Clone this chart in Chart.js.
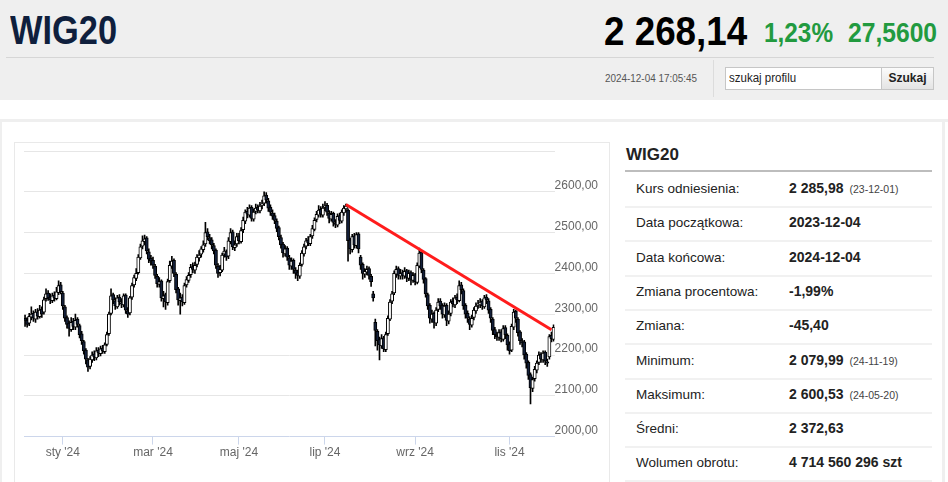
<!DOCTYPE html>
<html lang="pl">
<head>
<meta charset="utf-8">
<title>WIG20</title>
<script src="https://cdn.jsdelivr.net/npm/chart.js@4.4.1/dist/chart.umd.min.js"></script>
<style>
  body { margin: 0; width: 948px; height: 482px; overflow: hidden; background: #fff;
         font-family: "Liberation Sans", Arial, sans-serif; color: #222; position: relative; }
  .abs { position: absolute; white-space: nowrap; }
  .sq { transform-origin: left center; display: inline-block; }
  #head { left: 0; top: 0; width: 948px; height: 100px; background: #efefef; }
  .row { position: absolute; left: 625px; width: 307px; height: 34px; border-bottom: 2px solid #f1f1f1; }
  .row .lab { position: absolute; left: 11px; top: 9px; font-size: 13.5px; color: #222; }
  .row .val { position: absolute; left: 164px; top: 8px; font-size: 14px; font-weight: bold; color: #222; }
  .row .val small { font-weight: normal; font-size: 10.5px; color: #444; margin-left: 6px; }
</style>
</head>
<body>
<div id="head" class="abs"></div>
<div class="abs" style="left:10px;top:10px;font-size:40px;line-height:40px;font-weight:bold;color:#0f1f3d;">
  <span class="sq" style="transform:scaleX(0.86)">WIG20</span></div>
<div class="abs" style="left:604px;top:11px;font-size:40px;line-height:40px;font-weight:bold;color:#000;">
  <span class="sq" style="transform:scaleX(0.92)">2 268,14</span></div>
<div class="abs" style="left:764px;top:19px;font-size:28px;line-height:28px;font-weight:bold;color:#229a3f;">
  <span class="sq" style="transform:scaleX(0.87)">1,23%</span></div>
<div class="abs" style="left:848px;top:19px;font-size:28px;line-height:28px;font-weight:bold;color:#229a3f;">
  <span class="sq" style="transform:scaleX(0.88)">27,5600</span></div>
<div class="abs" style="left:6px;top:57px;width:928px;height:1px;background:#d6d6d6;"></div>
<div class="abs" style="left:605px;top:72px;font-size:11px;line-height:12px;color:#555;">
  <span class="sq" style="transform:scaleX(0.9)">2024-12-04 17:05:45</span></div>
<div class="abs" style="left:713px;top:60px;width:1px;height:37px;background:#dcdcdc;"></div>
<div class="abs" style="left:725px;top:67px;width:152px;height:21px;border:1px solid #c6c6c6;background:#fff;font-size:12.5px;line-height:21px;padding-left:3px;box-sizing:content-box;">
  <span class="sq" style="transform:scaleX(0.92)">szukaj profilu</span></div>
<div class="abs" style="left:881px;top:67px;width:51px;height:21px;border:1px solid #c6c6c6;background:linear-gradient(#fbfbfb,#e4e4e4);font-size:12px;font-weight:bold;line-height:21px;text-align:center;">Szukaj</div>

<div class="abs" style="left:0;top:119px;width:948px;height:3px;background:#efefef;"></div>
<div class="abs" style="left:0;top:119px;width:2px;height:363px;background:#efefef;"></div>
<div class="abs" style="left:942px;top:119px;width:3px;height:363px;background:#efefef;"></div>
<div class="abs" style="left:14px;top:142px;width:594px;height:350px;border:1px solid #e9e9e9;"></div>

<div class="abs" style="left:15px;top:143px;width:593px;height:333px;">
  <canvas id="wigChart"></canvas>
</div>

<div class="abs" style="left:626px;top:145px;font-size:17px;font-weight:bold;color:#222;">WIG20</div>
<div class="abs" style="left:625px;top:170px;width:307px;height:2px;background:#bdbdbd;"></div>
<div id="stats"></div>

<script>
// candles: one per trading day, 2023-12-04 .. 2024-12-04
const openVals = [
  2290,2285,2278,2293,2302,2288,2306,2294,2312,2305,
  2338,2352,2342,2333,2347,2338,2353,2372,2352,2318,
  2292,2278,2262,2283,2268,2288,2272,2252,2233,2212,
  2188,2172,2188,2203,2193,2212,2203,2217,2208,2226,
  2252,2302,2348,2333,2318,2342,2328,2323,2347,2308,
  2303,2342,2372,2388,2402,2438,2467,2478,2487,2453,
  2437,2432,2418,2393,2373,2382,2338,2348,2328,2382,
  2418,2432,2398,2362,2333,2342,2328,2372,2383,2397,
  2417,2408,2422,2438,2447,2458,2472,2502,2488,2482,
  2468,2457,2418,2402,2408,2447,2453,2442,2478,2502,
  2463,2472,2492,2478,2507,2528,2552,2543,2562,2533,
  2552,2562,2553,2567,2572,2592,2578,2562,2548,2542,
  2528,2512,2488,2472,2448,2462,2438,2418,2432,2408,
  2402,2393,2422,2448,2467,2482,2473,2492,2508,2532,
  2543,2557,2543,2562,2567,2548,2533,2547,2523,2518,
  2542,2528,2548,2558,2555,2482,2458,2492,2468,2497,
  2440,2422,2398,2403,2412,2393,2350,2280,2258,2238,
  2222,2242,2213,2252,2288,2332,2352,2398,2412,2393,
  2402,2393,2407,2388,2402,2383,2397,2378,2418,2452,
  2408,2387,2348,2322,2288,2302,2278,2312,2332,2322,
  2298,2322,2283,2302,2332,2323,2342,2333,2372,2358,
  2322,2302,2288,2273,2292,2308,2322,2323,2332,2318,
  2342,2333,2312,2288,2262,2248,2243,2257,2238,2267,
  2248,2227,2212,2268,2307,2288,2257,2233,2232,2202,
  2182,2152,2118,2142,2163,2182,2202,2188,2207,2183,
  2195,2248,2238
];
const highVals = [
  2298,2292,2302,2318,2308,2312,2314,2322,2318,2342,
  2362,2358,2350,2352,2355,2366,2382,2378,2356,2322,
  2296,2284,2292,2290,2300,2292,2276,2258,2236,2216,
  2192,2196,2208,2210,2218,2218,2222,2224,2230,2256,
  2305,2362,2352,2340,2346,2348,2338,2350,2350,2316,
  2344,2376,2396,2412,2446,2472,2492,2494,2490,2460,
  2444,2440,2422,2398,2390,2384,2356,2352,2386,2430,
  2442,2436,2402,2366,2352,2348,2376,2392,2402,2422,
  2426,2428,2446,2456,2466,2480,2525,2510,2496,2488,
  2474,2460,2424,2420,2450,2464,2458,2488,2510,2506,
  2480,2498,2498,2512,2538,2556,2562,2568,2566,2558,
  2570,2568,2574,2580,2600,2598,2584,2568,2556,2548,
  2534,2516,2494,2476,2468,2466,2444,2438,2436,2414,
  2408,2426,2456,2472,2486,2490,2496,2518,2536,2552,
  2566,2564,2570,2576,2572,2554,2552,2550,2532,2546,
  2548,2556,2566,2570,2558,2486,2496,2498,2500,2500,
  2444,2426,2412,2418,2416,2398,2356,2288,2262,2244,
  2250,2246,2256,2296,2336,2356,2406,2418,2416,2410,
  2408,2414,2410,2408,2406,2402,2400,2426,2462,2454,
  2412,2390,2352,2326,2310,2306,2316,2338,2338,2326,
  2328,2326,2308,2336,2340,2346,2350,2382,2378,2362,
  2326,2308,2294,2298,2316,2328,2334,2338,2336,2346,
  2348,2338,2316,2292,2268,2256,2262,2262,2272,2272,
  2252,2232,2276,2312,2310,2292,2260,2240,2236,2206,
  2186,2156,2146,2172,2186,2208,2206,2210,2210,2190,
  2250,2256,2274
];
const lowVals = [
  2270,2268,2272,2286,2282,2280,2288,2290,2292,2300,
  2332,2334,2326,2328,2332,2335,2348,2350,2312,2282,
  2266,2246,2258,2262,2262,2268,2242,2226,2202,2178,
  2160,2166,2182,2186,2188,2196,2198,2204,2204,2222,
  2248,2298,2326,2312,2314,2322,2316,2318,2302,2292,
  2298,2336,2366,2382,2398,2434,2460,2470,2448,2426,
  2420,2412,2388,2366,2366,2332,2318,2312,2322,2378,
  2412,2392,2352,2322,2300,2320,2324,2366,2378,2390,
  2402,2400,2416,2430,2440,2452,2466,2482,2472,2460,
  2448,2412,2390,2394,2404,2440,2432,2436,2472,2458,
  2456,2466,2472,2474,2500,2522,2536,2538,2528,2528,
  2546,2548,2548,2558,2566,2572,2552,2542,2532,2522,
  2502,2482,2462,2440,2442,2432,2410,2410,2400,2388,
  2382,2388,2418,2442,2460,2468,2468,2486,2504,2526,
  2538,2538,2538,2554,2542,2524,2528,2516,2512,2514,
  2522,2524,2542,2550,2430,2448,2452,2462,2462,2450,
  2410,2386,2390,2396,2386,2368,2332,2222,2212,2188,
  2216,2208,2208,2248,2284,2326,2348,2390,2386,2386,
  2386,2388,2380,2382,2372,2378,2372,2374,2414,2402,
  2376,2342,2312,2278,2280,2266,2272,2306,2312,2290,
  2292,2272,2276,2296,2318,2316,2326,2330,2350,2312,
  2290,2280,2262,2268,2286,2302,2314,2316,2312,2314,
  2326,2302,2280,2250,2240,2236,2236,2232,2234,2240,
  2212,2202,2208,2262,2280,2246,2226,2220,2190,2168,
  2140,2080,2110,2136,2156,2176,2182,2182,2176,2172,
  2190,2232,2234
];
const closeVals = [
  2285,2275,2295,2300,2290,2305,2295,2310,2300,2335,
  2350,2340,2335,2345,2340,2355,2370,2355,2320,2290,
  2275,2265,2280,2270,2285,2275,2250,2235,2210,2190,
  2170,2190,2200,2195,2210,2205,2215,2210,2225,2250,
  2300,2345,2335,2320,2340,2330,2325,2345,2310,2300,
  2340,2370,2390,2400,2440,2465,2480,2485,2455,2435,
  2430,2420,2395,2375,2380,2340,2345,2330,2380,2420,
  2430,2400,2360,2335,2340,2330,2370,2385,2395,2415,
  2410,2420,2440,2445,2460,2470,2500,2490,2480,2470,
  2455,2420,2400,2410,2445,2455,2440,2480,2500,2465,
  2470,2490,2480,2505,2530,2550,2545,2560,2535,2550,
  2560,2555,2565,2570,2590,2580,2560,2550,2540,2530,
  2510,2490,2470,2450,2460,2440,2420,2430,2410,2400,
  2395,2420,2450,2465,2480,2475,2490,2510,2530,2545,
  2555,2545,2560,2565,2550,2535,2545,2525,2520,2540,
  2530,2550,2560,2565,2480,2460,2490,2470,2495,2460,
  2420,2400,2405,2410,2395,2380,2340,2260,2235,2225,
  2240,2215,2250,2290,2330,2350,2400,2410,2395,2400,
  2395,2405,2390,2400,2385,2395,2380,2420,2450,2410,
  2385,2350,2320,2290,2300,2280,2310,2330,2320,2300,
  2320,2285,2300,2330,2325,2340,2335,2370,2360,2320,
  2300,2290,2275,2290,2310,2320,2325,2330,2320,2340,
  2335,2310,2290,2260,2250,2245,2255,2240,2265,2250,
  2225,2210,2270,2305,2290,2255,2235,2230,2200,2180,
  2150,2120,2140,2165,2180,2200,2190,2205,2185,2180,
  2245,2240,2268
];

// month ticks on the time axis (index of the first session shown)
const tickIndex = [18, 61, 102, 143, 186, 231];
const tickText = ["sty '24", "mar '24", "maj '24", "lip '24", "wrz '24", "lis '24"];

// red resistance line: candle index -> level
const trendIdx = [153, 251];
const trendVal = [2569, 2262];

// side table
const statRows = [
  ['Kurs odniesienia:', '2 285,98', '(23-12-01)'],
  ['Data początkowa:', '2023-12-04', ''],
  ['Data końcowa:', '2024-12-04', ''],
  ['Zmiana procentowa:', '-1,99%', ''],
  ['Zmiana:', '-45,40', ''],
  ['Minimum:', '2 079,99', '(24-11-19)'],
  ['Maksimum:', '2 600,53', '(24-05-20)'],
  ['Średni:', '2 372,63', ''],
  ['Wolumen obrotu:', '4 714 560 296 szt', '']
];

const stats = document.getElementById('stats');
statRows.forEach((r, i) => {
  const d = document.createElement('div');
  d.className = 'row';
  d.style.top = (172 + i * 34.3) + 'px';
  d.innerHTML = '<span class="lab">' + r[0] + '</span><span class="val">' + r[1] +
    (r[2] ? '<small>' + r[2] + '</small>' : '') + '</span>';
  stats.appendChild(d);
});

const labels = closeVals.map((_, i) => i);
const bodies = closeVals.map((c, i) => [openVals[i], c]);
const wicks = closeVals.map((c, i) => [lowVals[i], highVals[i]]);
const trend = closeVals.map(() => null);
trendIdx.forEach((k, j) => { trend[k] = trendVal[j]; });

Chart.defaults.font.family = '"Liberation Sans", Arial, sans-serif';

const ctx = document.getElementById('wigChart').getContext('2d');
new Chart(ctx, {
  type: 'bar',
  data: {
    labels: labels,
    datasets: [
      {
        type: 'line',
        data: trend,
        borderColor: '#ff1c1c',
        borderWidth: 3,
        pointRadius: 0,
        spanGaps: true,
        order: 0
      },
      {
        data: bodies,
        backgroundColor: c => closeVals[c.dataIndex] >= openVals[c.dataIndex] ? '#ffffff' : '#14203a',
        borderColor: '#000',
        borderWidth: 1,
        borderSkipped: false,
        barThickness: 3.2,
        grouped: false,
        order: 1
      },
      {
        data: wicks,
        backgroundColor: '#000',
        barThickness: 1,
        grouped: false,
        order: 2
      }
    ]
  },
  options: {
    responsive: true,
    maintainAspectRatio: false,
    animation: false,
    layout: { padding: { left: 9, top: 8, right: 10, bottom: 15 } },
    plugins: { legend: { display: false }, tooltip: { enabled: false } },
    scales: {
      x: {
        offset: true,
        grid: {
          offset: false,
          drawOnChartArea: false,
          tickLength: 8,
          color: c => tickIndex.includes(c.index) ? '#ccd6eb' : 'rgba(0,0,0,0)'
        },
        border: { color: '#ccd6eb' },
        ticks: {
          autoSkip: false,
          maxRotation: 0,
          padding: 1,
          color: '#666',
          font: { size: 12 },
          callback: (v, i) => {
            const k = tickIndex.indexOf(i);
            return k < 0 ? '' : tickText[k];
          }
        }
      },
      y: {
        position: 'right',
        min: 2000,
        max: 2700,
        border: { display: false },
        grid: {
          drawTicks: false,
          color: c => c.tick && c.tick.value === 2000 ? 'rgba(0,0,0,0)' : '#e6e6e6'
        },
        ticks: {
          stepSize: 100,
          padding: 0,
          labelOffset: -6,
          color: '#666',
          font: { size: 12 },
          callback: v => v === 2700 ? '' : v.toFixed(2).replace('.', ',')
        }
      }
    }
  }
});
</script>
</body>
</html>
